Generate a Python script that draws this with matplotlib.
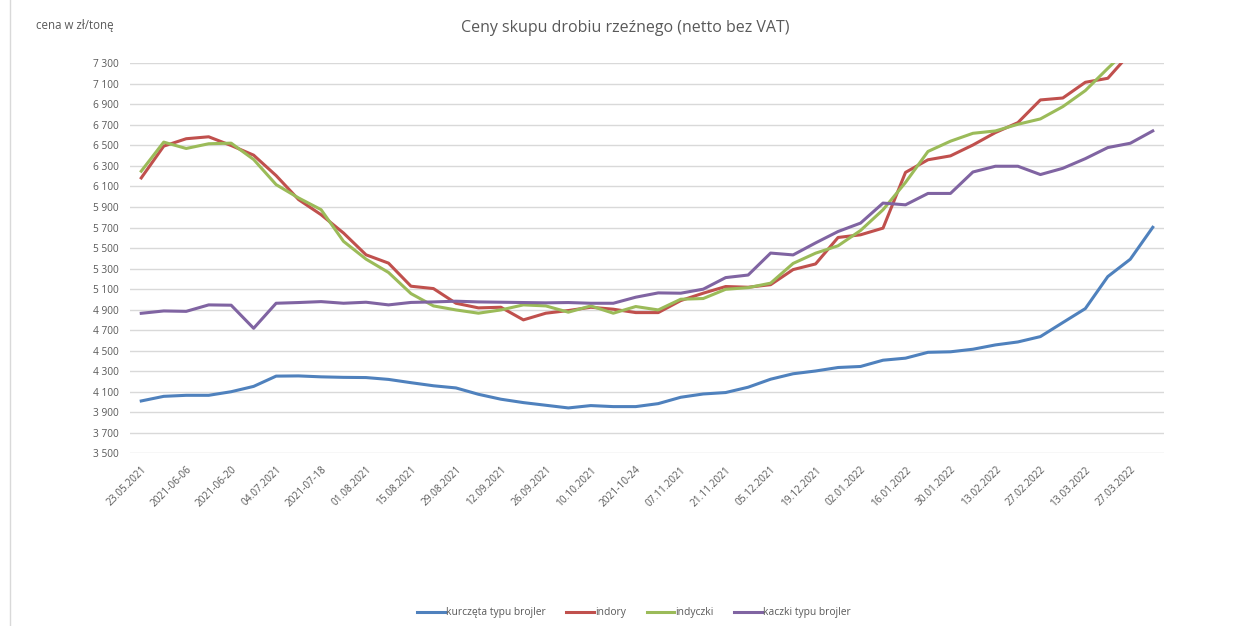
import numpy as np
import matplotlib
matplotlib.use("Agg")
import matplotlib.pyplot as plt
from matplotlib.lines import Line2D

# tygodnie (co drugi podpisany)
etykiety = ["23.05.2021", "2021-06-06", "2021-06-20", "04.07.2021", "2021-07-18",
            "01.08.2021", "15.08.2021", "29.08.2021", "12.09.2021", "26.09.2021",
            "10.10.2021", "2021-10-24", "07.11.2021", "21.11.2021", "05.12.2021",
            "19.12.2021", "02.01.2022", "16.01.2022", "30.01.2022", "13.02.2022",
            "27.02.2022", "13.03.2022", "27.03.2022"]

kurczeta = [4010, 4055, 4065, 4065, 4100, 4152, 4252, 4254, 4245, 4240,
            4238, 4220, 4188, 4158, 4137, 4075, 4027, 3994, 3968, 3942,
            3965, 3955, 3955, 3984, 4046, 4078, 4092, 4144, 4222, 4275,
            4302, 4336, 4346, 4407, 4427, 4484, 4489, 4514, 4556, 4585,
            4637, 4774, 4910, 5222, 5391, 5702]
indory = [6183, 6493, 6565, 6584, 6499, 6405, 6206, 5972, 5825, 5646,
          5434, 5353, 5128, 5105, 4962, 4917, 4923, 4800, 4865, 4891,
          4923, 4904, 4871, 4871, 4988, 5060, 5125, 5118, 5143, 5290,
          5345, 5603, 5629, 5694, 6237, 6360, 6398, 6504, 6625, 6722,
          6943, 6962, 7115, 7154, 7400, 7560]
indyczki = [6249, 6532, 6470, 6516, 6522, 6363, 6118, 5988, 5874, 5565,
            5392, 5262, 5056, 4936, 4897, 4865, 4897, 4946, 4936, 4875,
            4936, 4865, 4930, 4897, 5001, 5008, 5098, 5114, 5158, 5350,
            5450, 5522, 5671, 5873, 6139, 6441, 6541, 6618, 6641, 6706,
            6758, 6878, 7034, 7251, 7460, 7620]
kaczki = [4864, 4887, 4883, 4946, 4943, 4718, 4962, 4969, 4978, 4962,
          4972, 4946, 4970, 4975, 4982, 4975, 4972, 4969, 4966, 4969,
          4962, 4962, 5021, 5063, 5060, 5099, 5212, 5237, 5451, 5433,
          5550, 5661, 5743, 5938, 5921, 6032, 6032, 6241, 6297, 6297,
          6216, 6277, 6371, 6479, 6521, 6641]

serie = [("kurczęta typu brojler", kurczeta, "#4F81BD"),
         ("indory", indory, "#C0504D"),
         ("indyczki", indyczki, "#9BBB59"),
         ("kaczki typu brojler", kaczki, "#8064A2")]

szary = "#595959"
plt.rcParams['font.family'] = ['Open Sans', 'DejaVu Sans']

fig = plt.figure(figsize=(12.41, 6.26), dpi=100)
ax = fig.add_axes([130 / 1241, 1 - 453.3 / 626, 1034 / 1241, 390 / 626])

x = np.arange(len(kurczeta))
for nazwa, wartosci, kolor in serie:
    ax.plot(x, wartosci, color=kolor, linewidth=2.2, label=nazwa,
            solid_joinstyle="round", zorder=3)

ax.set_xlim(-0.5, len(x) - 0.5)
ax.set_ylim(3500, 7300)
ax.set_yticks(np.arange(3500, 7301, 200))
ax.set_yticklabels([f"{v:,}".replace(",", " ") for v in range(3500, 7301, 200)])
ax.grid(axis="y", color="#D9D9D9", linewidth=1)
ax.set_axisbelow(True)
for s in ax.spines.values():
    s.set_visible(False)
ax.tick_params(axis="y", length=0, pad=8, labelsize=7.3, labelcolor=szary)

ax.set_xticks(x[::2])
ax.set_xticklabels(etykiety, rotation=45, ha="right", rotation_mode="anchor")
ax.tick_params(axis="x", length=0, pad=8, labelsize=7.3, labelcolor=szary)

fig.text(625 / 1241, 1 - 28 / 626, "Ceny skupu drobiu rzeźnego (netto bez VAT)",
         ha="center", va="center", fontsize=11.5, color=szary)
fig.text(36 / 1241, 1 - 25 / 626, "cena w zł/tonę", ha="left", va="center",
         fontsize=8.3, color=szary)

uchwyty = [Line2D([0], [0], color=k, linewidth=2.2) for _, _, k in serie]
fig.legend(uchwyty, [n for n, _, _ in serie], loc="center",
           bbox_to_anchor=(634 / 1241, 1 - 613 / 626), ncol=4, frameon=False,
           fontsize=7.4, labelcolor=szary, handlelength=2.7, handletextpad=0.1,
           columnspacing=2.0)

fig.add_artist(Line2D([10 / 1241, 10 / 1241], [0, 1], color="#D9D9D9",
                      linewidth=1, transform=fig.transFigure))

fig.savefig("out.png", dpi=100, facecolor="white")
